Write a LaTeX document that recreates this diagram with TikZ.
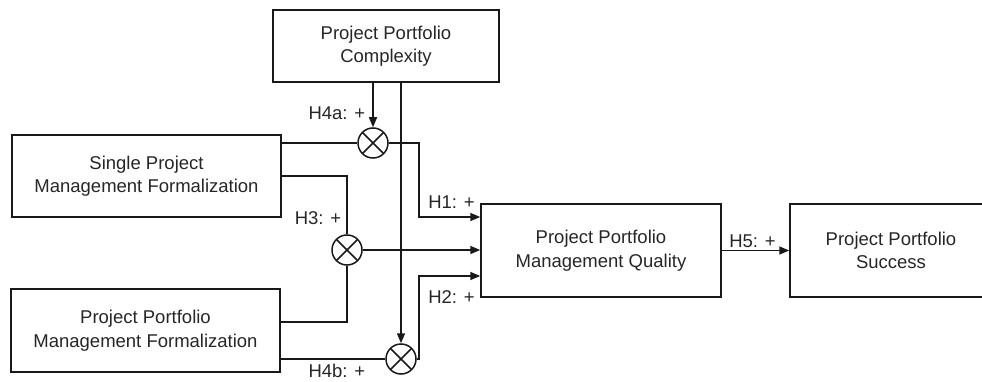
\documentclass[tikz,border=0pt]{standalone}
\usepackage{fontspec}
\setmainfont{Liberation Sans}
\usetikzlibrary{arrows.meta}
\begin{document}
\begin{tikzpicture}[x=1pt,y=-1pt,
  line width=1.5pt,
  box/.style={draw=black!90, line width=1.5pt, inner sep=0pt, align=center,
    font=\fontsize{18.5}{23.5}\selectfont, text=black!85},
  mult/.style={circle, draw=black!90, line width=1.5pt, minimum size=30pt, inner sep=0pt,
    path picture={\draw[line width=1.5pt, black!90]
      (path picture bounding box.north west) -- (path picture bounding box.south east)
      (path picture bounding box.north east) -- (path picture bounding box.south west);}},
  conn/.style={draw=black!90, line width=1.5pt},
  arr/.style={conn, -{Triangle[length=10pt,width=8pt]}},
  lbl/.style={font=\fontsize{18.5}{22}\selectfont, inner sep=0pt, text=black!85}]
\useasboundingbox (0,0) rectangle (982,382);
\clip (0,0) rectangle (982,382);

% boxes
\node[box, minimum width=226pt, minimum height=72pt] (ppc) at (386,46) {Project Portfolio\\Complexity};
\node[box, minimum width=269pt, minimum height=82pt] (spmf) at (146.5,176) {Single Project\\Management Formalization};
\node[box, minimum width=269pt, minimum height=83pt] (ppmf) at (145.5,330.5) {Project Portfolio\\Management Formalization};
\node[box, minimum width=240pt, minimum height=93pt] (ppmq) at (601,250.5) {Project Portfolio\\Management Quality};
\node[box, minimum width=202pt, minimum height=93pt] (pps) at (891,250.5) {Project Portfolio\\Success};

% multipliers
\node[mult] (c1) at (373,143) {};
\node[mult] (c3) at (347,250) {};
\node[mult] (c2) at (401,359) {};

% helper coordinates
\coordinate (e1) at (419,217);
\coordinate (e2) at (419,276);
\coordinate (p3) at (0,322);

% connectors
\draw[arr] (ppc.south -| c1) -- (c1.north);
\draw[arr] (ppc.south -| c2) -- (c2.north);
\draw[conn] (spmf.east |- c1) -- (c1.west);
\draw[conn] (spmf.east) -| (c3.north);
\draw[conn] (ppmf.east |- p3) -| (c3.south);
\draw[conn] (ppmf.east |- c2) -- (c2.west);
\draw[arr] (c1.east) -| (e1) -- (e1 -| ppmq.west);
\draw[arr] (c3.east) -- (c3.east -| ppmq.west);
\draw[arr] (c2.east) -| (e2) -- (e2 -| ppmq.west);
\draw[arr] (ppmq.east) -- (pps.west);

% labels
\node[lbl, anchor=east] (l4a) at (366,113) {H4a: +};
\node[lbl, anchor=east] (l4b) at (366,371) {H4b: +};
\node[lbl, anchor=east] (l3) at (342,218) {H3: +};
\node[lbl] (l1) at (451.5,202) {H1: +};
\node[lbl] (l2) at (451.5,297) {H2: +};
\node[lbl] (l5) at (752.5,241) {H5: +};
\end{tikzpicture}
\end{document}
